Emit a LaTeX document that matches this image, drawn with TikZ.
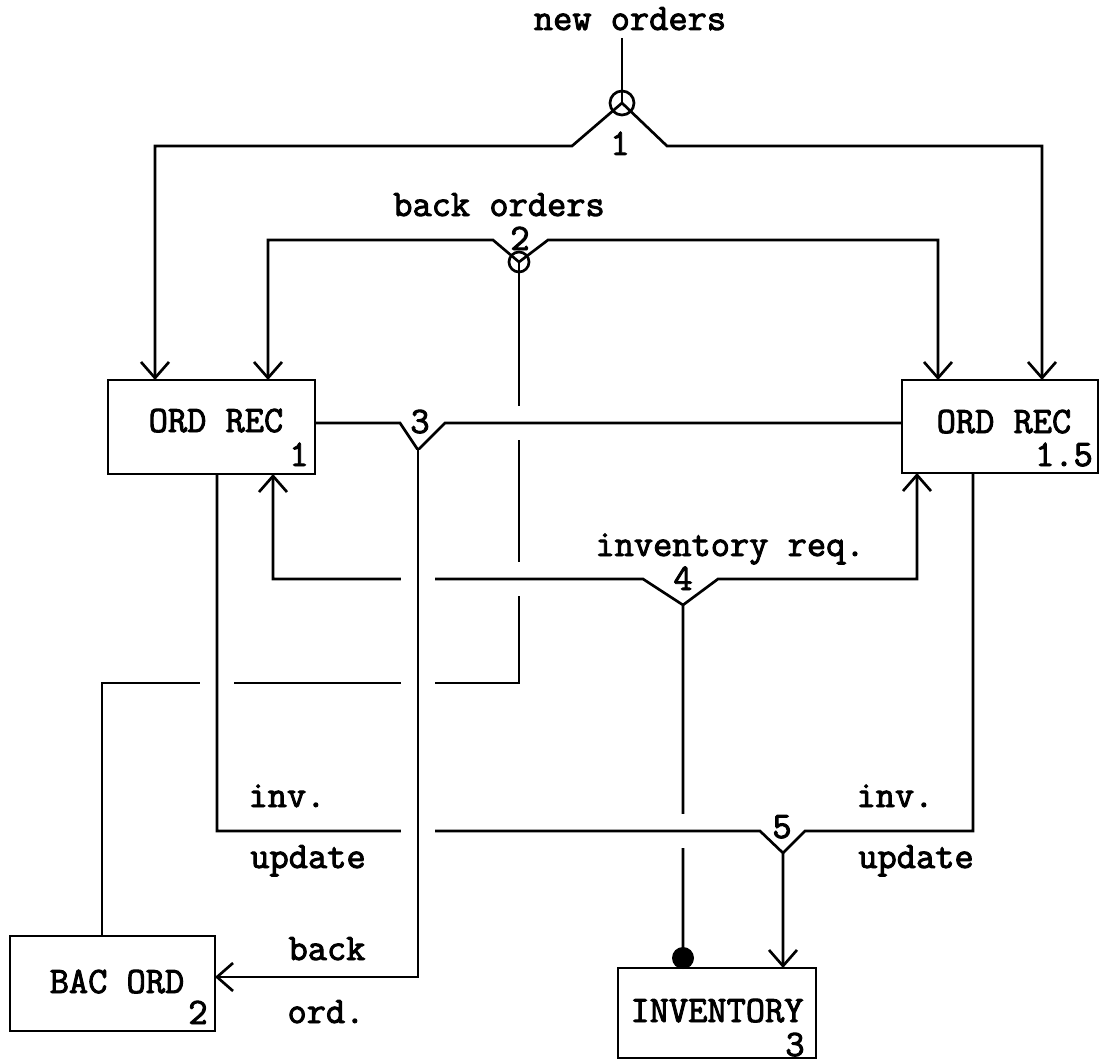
\documentclass[tikz,border=0pt]{standalone}
\usepackage{fontspec}
\setmonofont{Latin Modern Mono}[AutoFakeBold=2.5]
\usetikzlibrary{arrows.meta}
\pgfdeclarelayer{bg}
\pgfsetlayers{bg,main}
\newdimen\pxu \pxu=0.75pt
\newcommand\dfdfont{\ttfamily\bfseries\fontsize{28}{32}\selectfont}
\begin{document}
\begin{tikzpicture}[x=0.75pt,y=-0.75pt,
  conn/.style={line width=2pt},
  arr/.style={-{Straight Barb[length=12pt,width=21pt]}},
  band/.style={draw=white,line width=34\pxu,line cap=butt},
  box/.style={draw,line width=2pt,inner sep=0pt,outer sep=0pt},
  store/.style={draw,circle,line width=2pt,inner sep=0pt,outer sep=0pt},
  txt/.style={anchor=base,inner sep=0pt,font=\dfdfont}]
\useasboundingbox (0,0) rectangle (1101,1063);

% boxes
\node[box,minimum width=207\pxu,minimum height=94\pxu] (rec1) at (211.5,427) {};
\node[box,minimum width=196\pxu,minimum height=93\pxu] (rec15) at (1000,426.5) {};
\node[box,minimum width=205\pxu,minimum height=95\pxu] (bac) at (112.5,983.5) {};
\node[box,minimum width=198\pxu,minimum height=90\pxu] (inv) at (717,1013) {};

% stores
\node[store,minimum size=24\pxu] (st1) at (622,103) {};
\node[store,minimum size=20\pxu] (st2) at (519,262) {};
\node[circle,fill,inner sep=0pt,minimum size=22\pxu] (dot) at (683,958) {};

% texts
\node[txt] (tnew) at (630,30) {new orders};
\node[txt] (tn1) at (620,155) {1};
\node[txt] (tback) at (499,216) {back orders};
\node[txt] (tn2) at (520,250) {2};
\node[txt] (tn3) at (420,433) {3};
\node[txt] (tinvreq) at (730,556) {inventory req.};
\node[txt] (tn4) at (683,590) {4};
\node[txt] (tn5) at (782,838) {5};
\node[txt] (tinvL) at (287,807) {inv.};
\node[txt] (tupdL) at (308,868) {update};
\node[txt] (tinvR) at (895,807) {inv.};
\node[txt] (tupdR) at (916,868) {update};
\node[txt] (tbk) at (327,960) {back};
\node[txt] (tord) at (326,1023) {ord.};
\node[txt] (r1a) at (216,432) {ORD REC};
\node[txt] (r1b) at (299,466) {1};
\node[txt] (r2a) at (1004,433) {ORD REC};
\node[txt] (r2b) at (1064,466) {1.5};
\node[txt] (b1a) at (117,993) {BAC ORD};
\node[txt] (b1b) at (198,1024) {2};
\node[txt] (i1a) at (717,1022) {INVENTORY};
\node[txt] (i1b) at (795,1056) {3};

% junction and bend coordinates
\coordinate (top1) at (622,38);
\coordinate (j1L) at (572,146);
\coordinate (j1R) at (667,146);
\coordinate (k1) at (155,146);
\coordinate (k2) at (1042,146);
\coordinate (j2L) at (493,240);
\coordinate (j2R) at (548,240);
\coordinate (k3) at (268,240);
\coordinate (k4) at (938,240);
\coordinate (k6) at (102,683);
\coordinate (k7) at (519,683);
\coordinate (j3L) at (400,423);
\coordinate (apex3) at (418,450);
\coordinate (j3R) at (445,423);
\coordinate (k8) at (418,977);
\coordinate (j4L) at (643,579);
\coordinate (apex4) at (683,605);
\coordinate (j4R) at (718,579);
\coordinate (k9) at (917,579);
\coordinate (k10) at (273,579);
\coordinate (k11) at (217,831);
\coordinate (j5L) at (760,831);
\coordinate (apex5) at (783,853);
\coordinate (j5R) at (805,831);
\coordinate (k12) at (973,831);

\begin{pgfonlayer}{bg}
% new orders
\draw[conn] (top1) -- (st1.center);
\draw[conn,arr] (st1.center) -- (j1L) -- (k1) -- (k1 |- rec1.north);
\draw[conn,arr] (st1.center) -- (j1R) -- (k2) -- (k2 |- rec15.north);
% back orders store
\draw[conn,arr] (st2.center) -- (j2L) -- (k3) -- (k3 |- rec1.north);
\draw[conn,arr] (st2.center) -- (j2R) -- (k4) -- (k4 |- rec15.north);
% BAC ORD to back orders store
\draw[conn] (k6 |- bac.north) -- (k6) -- (k7) -- (st2.center);
% inventory req.
\draw[band] (k10) -- (j4L);
\draw[conn,arr] (dot.center) -- (apex4) -- (j4L) -- (k10) -- (k10 |- rec1.south);
\draw[conn,arr] (apex4) -- (j4R) -- (k9) -- (k9 |- rec15.south);
% junction 3
\draw[band] (j3R) -- (j3R -| rec15.west);
\draw[conn] (j3L -| rec1.east) -- (j3L) -- (apex3) -- (j3R) -- (j3R -| rec15.west);
% inv. update
\draw[band] (k11 |- rec1.south) -- (k11) -- (j5L);
\draw[conn,arr] (k11 |- rec1.south) -- (k11) -- (j5L) -- (apex5) -- (apex5 |- inv.north);
\draw[conn] (k12 |- rec15.south) -- (k12) -- (j5R) -- (apex5);
% back ord.
\draw[band] (apex3) -- (k8);
\draw[conn,arr] (apex3) -- (k8) -- (k8 -| bac.east);
\end{pgfonlayer}
\end{tikzpicture}
\end{document}
